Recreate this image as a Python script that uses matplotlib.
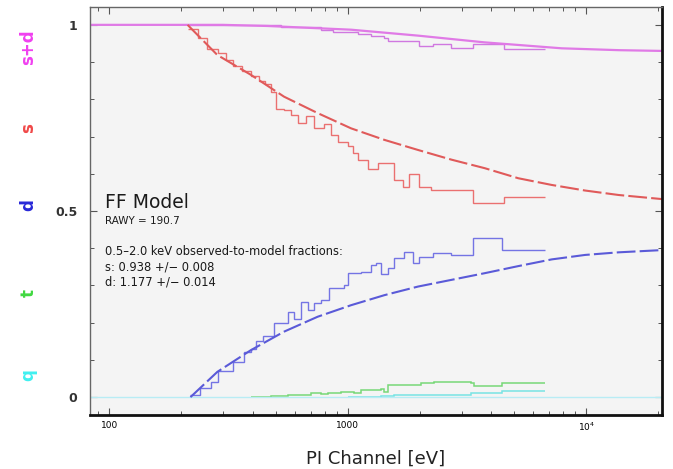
import matplotlib
matplotlib.use("Agg")
import matplotlib.pyplot as plt
from matplotlib.ticker import FixedLocator, MultipleLocator, NullFormatter

# model curves (PI channel in eV, fraction)
sd_model_e = [83, 300, 460, 1033, 1976, 3745, 7895, 13715, 20797]
sd_model = [1.0, 1.0, 0.997, 0.987, 0.971, 0.953, 0.937, 0.932, 0.930]

s_model_e = [213, 284, 392, 541, 748, 1033, 1426, 1970, 2720, 3755, 5191, 7166, 9894, 13677, 20797]
s_model = [1.0, 0.919, 0.866, 0.807, 0.763, 0.722, 0.691, 0.664, 0.638, 0.615, 0.588, 0.570, 0.555, 0.543, 0.532]

d_model_e = [219, 284, 392, 541, 748, 1033, 1426, 1970, 2720, 3755, 5191, 7166, 9894, 13677, 20797]
d_model = [0.0, 0.068, 0.126, 0.176, 0.216, 0.247, 0.274, 0.297, 0.315, 0.333, 0.352, 0.370, 0.382, 0.389, 0.395]

q_model_e = [83, 20797]
q_model = [0.0, 0.0]

# observed fractions (histogram bin edges in eV, values)
sd_obs_e = [213, 524, 772, 868, 1105, 1253, 1421, 1477, 1995, 2285, 2720, 3367, 4502, 6696]
sd_obs = [1.0, 0.993, 0.987, 0.982, 0.975, 0.971, 0.965, 0.956, 0.944, 0.948, 0.939, 0.948, 0.935]

s_obs_e = [213, 235, 256, 285, 308, 329, 359, 392, 423, 449, 476, 499, 540, 577, 618, 667, 722,
           795, 851, 910, 1003, 1053, 1105, 1217, 1341, 1566, 1709, 1811, 1995, 2241, 3367, 4502, 6696]
s_obs = [0.99, 0.965, 0.935, 0.925, 0.905, 0.89, 0.875, 0.862, 0.85, 0.84, 0.82, 0.775, 0.772, 0.758,
         0.737, 0.755, 0.723, 0.735, 0.704, 0.686, 0.675, 0.656, 0.637, 0.612, 0.628, 0.583, 0.565,
         0.599, 0.565, 0.556, 0.521, 0.538]

d_obs_e = [219, 241, 266, 285, 329, 366, 392, 411, 440, 490, 524, 561, 594, 636, 681, 722, 772, 834,
           910, 965, 1003, 1063, 1138, 1253, 1316, 1381, 1477, 1566, 1726, 1883, 1995, 2285, 2720,
           3367, 4416, 6696]
d_obs = [0.005, 0.025, 0.04, 0.07, 0.095, 0.12, 0.13, 0.15, 0.165, 0.198, 0.20, 0.229, 0.21, 0.256,
         0.235, 0.252, 0.262, 0.292, 0.292, 0.30, 0.333, 0.333, 0.337, 0.355, 0.359, 0.33, 0.346,
         0.373, 0.391, 0.36, 0.377, 0.388, 0.382, 0.427, 0.395]

t_obs_e = [392, 476, 561, 618, 701, 772, 826, 851, 937, 1063, 1138, 1381, 1421, 1477, 2034, 2307,
           3302, 3400, 4416, 6696]
t_obs = [0.0, 0.002, 0.006, 0.005, 0.010, 0.009, 0.012, 0.010, 0.014, 0.010, 0.019, 0.022, 0.014,
         0.032, 0.037, 0.040, 0.037, 0.030, 0.038]

q_obs_e = [1003, 1138, 1381, 1566, 2720, 3302, 4416, 6696]
q_obs = [0.0, 0.001, 0.003, 0.007, 0.005, 0.012, 0.017]

side_labels = ["s+d", "s", "d", "t", "q"]
side_colors = ["#f040f0", "#f04848", "#2828d8", "#40d840", "#40f0f0"]

fig = plt.figure(figsize=(6.73, 4.69), dpi=100)
ax = fig.add_axes([0.1337, 0.1151, 0.85, 0.870])
ax.set_facecolor("#f4f4f4")

ax.plot(q_model_e, q_model, color="#b8ecf4", lw=1.0)
ax.stairs(q_obs, q_obs_e, color="#78e4e4", lw=1.1, baseline=None)
ax.stairs(t_obs, t_obs_e, color="#78d878", lw=1.1, baseline=None)

ax.plot(sd_model_e, sd_model, color="#e07ae6", lw=1.6)
ax.stairs(sd_obs, sd_obs_e, color="#d078e0", lw=1.0, baseline=None)

ax.plot(s_model_e, s_model, color="#e05a5a", lw=1.5, dashes=(9, 2))
ax.stairs(s_obs, s_obs_e, color="#ea7070", lw=1.0, baseline=None)

ax.plot(d_model_e, d_model, color="#5a5ad8", lw=1.5, dashes=(9, 2))
ax.stairs(d_obs, d_obs_e, color="#7474e4", lw=1.0, baseline=None)

ax.set_xscale("log")
ax.set_xlim(83, 20800)
ax.set_ylim(-0.048, 1.048)

ax.xaxis.set_major_locator(FixedLocator([100, 1000, 10000]))
ax.set_xticklabels(["100", "1000", "$10^4$"], fontsize=6.5)
ax.xaxis.set_minor_formatter(NullFormatter())
ax.yaxis.set_major_locator(FixedLocator([0, 0.5, 1]))
ax.yaxis.set_minor_locator(MultipleLocator(0.1))
ax.set_yticklabels(["0", "0.5", "1"], fontsize=9, color="#333333", fontweight="semibold")
ax.tick_params(which="both", direction="in", top=True, right=True, color="#555555")
ax.tick_params(which="major", length=5, width=0.8)
ax.tick_params(which="minor", length=3, width=0.7)
ax.tick_params(axis="y", pad=9)
ax.tick_params(axis="x", pad=4)

for side in ["left", "top"]:
    ax.spines[side].set_color("#666666")
    ax.spines[side].set_linewidth(1.0)
for side in ["right", "bottom"]:
    ax.spines[side].set_color("#111111")
    ax.spines[side].set_linewidth(2.0)

ax.set_xlabel("PI Channel [eV]", fontsize=13, color="#222222", labelpad=12)

# coloured labels on the left
label_y = [0.899, 0.727, 0.563, 0.375, 0.200]
for txt, col, yy in zip(side_labels, side_colors, label_y):
    fig.text(0.042, yy, txt, color=col, fontsize=12, fontweight="bold", rotation=90,
             ha="center", va="center")

fig.text(0.156, 0.569, "FF Model", fontsize=13.5, color="#1a1a1a", va="center")
fig.text(0.156, 0.529, "RAWY = 190.7", fontsize=7.5, color="#1a1a1a", va="center")
fig.text(0.156, 0.463, "0.5\u20132.0 keV observed-to-model fractions:", fontsize=8.3,
         color="#1a1a1a", va="center")
fig.text(0.156, 0.431, "s: 0.938 +/\u2212 0.008", fontsize=8.3, color="#1a1a1a", va="center")
fig.text(0.156, 0.399, "d: 1.177 +/\u2212 0.014", fontsize=8.3, color="#1a1a1a", va="center")

fig.savefig("out.png", dpi=100)
